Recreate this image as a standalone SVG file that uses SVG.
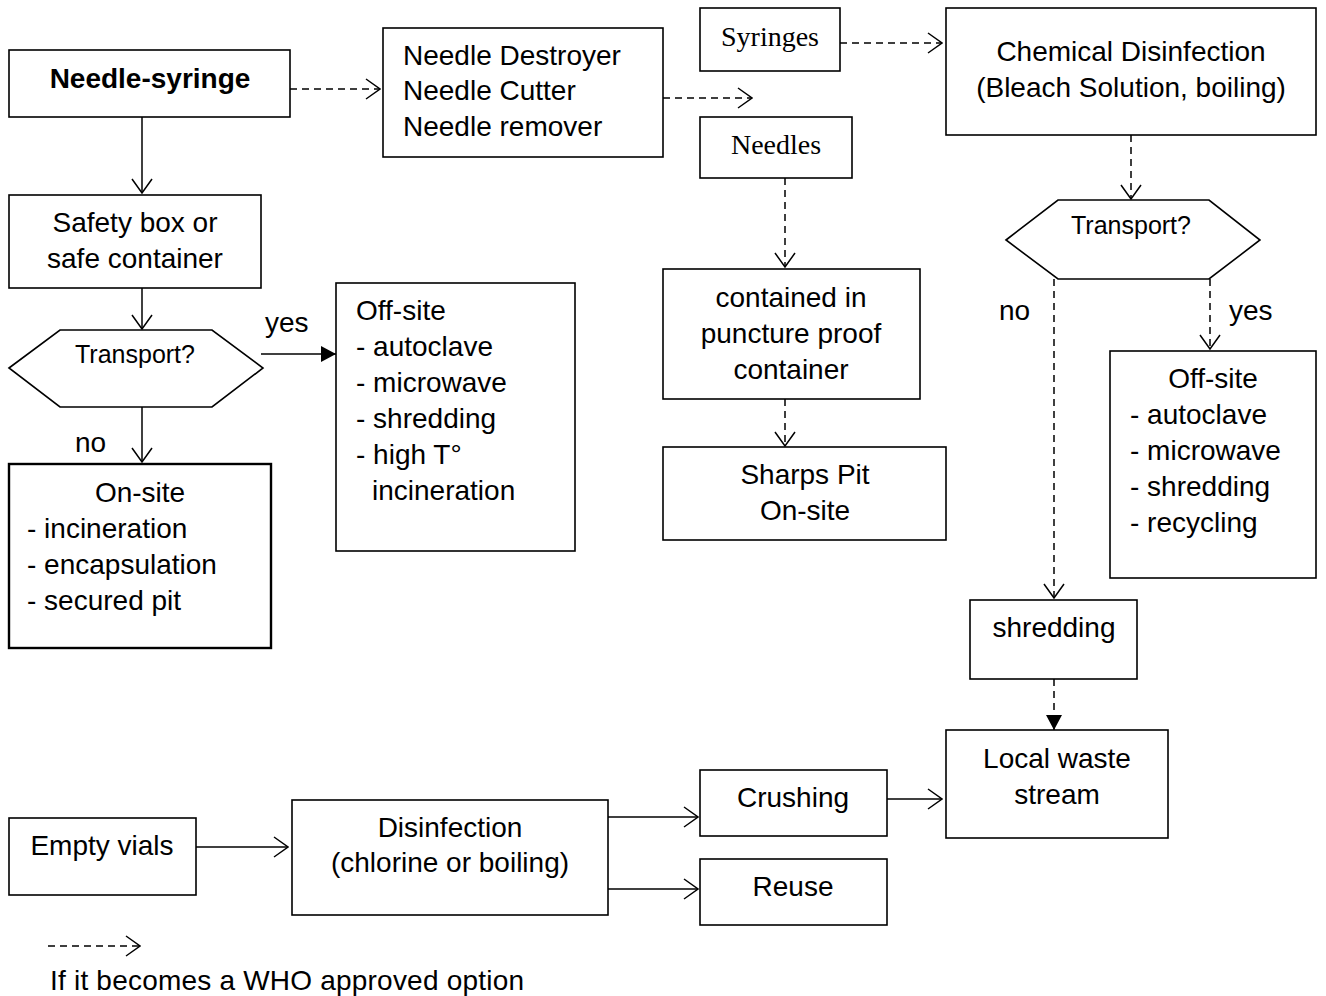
<svg xmlns="http://www.w3.org/2000/svg" width="1326" height="996" viewBox="0 0 1326 996">
<defs>
<marker id="open" viewBox="0 0 16 22" refX="15" refY="11" markerWidth="16" markerHeight="22" markerUnits="userSpaceOnUse" orient="auto">
<path d="M1,1 L15,11 L1,21" fill="none" stroke="#000" stroke-width="1.5"/>
</marker>
<marker id="filled" viewBox="0 0 15 16" refX="15" refY="8" markerWidth="15" markerHeight="16" markerUnits="userSpaceOnUse" orient="auto">
<path d="M0,0 L15,8 L0,16 Z" fill="#000"/>
</marker>
</defs>
<style>
.box{fill:#fff;stroke:#000;stroke-width:1.6}
.thick{stroke-width:2.4}
text{font-family:"Liberation Sans",Arial,sans-serif;font-size:28px;fill:#000}
.serif{font-family:"Liberation Serif","Times New Roman",serif}
.c{text-anchor:middle}
.small{font-size:25px}
.b{font-weight:bold}
.ln{fill:none;stroke:#000;stroke-width:1.5}
.d{stroke-dasharray:7,5}
.o{marker-end:url(#open)}
.f{marker-end:url(#filled)}
</style>
<rect width="1326" height="996" fill="#fff"/>

<g id="connectors">
<line class="ln d o" x1="290" y1="89" x2="380" y2="89"/>
<line class="ln d o" x1="663" y1="98" x2="752" y2="98"/>
<line class="ln d o" x1="840" y1="43" x2="942" y2="43"/>
<line class="ln d o" x1="785" y1="178" x2="785" y2="267"/>
<line class="ln d o" x1="785" y1="399" x2="785" y2="446"/>
<line class="ln o" x1="142" y1="117" x2="142" y2="193"/>
<line class="ln o" x1="142" y1="288" x2="142" y2="329"/>
<line class="ln f" x1="261" y1="354" x2="336" y2="354"/>
<line class="ln o" x1="142" y1="407" x2="142" y2="462"/>
<line class="ln d o" x1="1131" y1="135" x2="1131" y2="199"/>
<line class="ln d o" x1="1210" y1="279" x2="1210" y2="349"/>
<line class="ln d o" x1="1054" y1="279" x2="1054" y2="598"/>
<line class="ln d f" x1="1054" y1="679" x2="1054" y2="730"/>
<line class="ln o" x1="196" y1="847" x2="288" y2="847"/>
<line class="ln o" x1="608" y1="817" x2="698" y2="817"/>
<line class="ln o" x1="608" y1="889" x2="698" y2="889"/>
<line class="ln o" x1="887" y1="799" x2="942" y2="799"/>
<line class="ln d o" x1="48" y1="946" x2="140" y2="946"/>
</g>

<g id="needle-syringe">
<rect class="box" x="9" y="50" width="281" height="67"/>
<text class="c b" x="150" y="88">Needle-syringe</text>
</g>

<g id="needle-destroyer">
<rect class="box" x="383" y="28" width="280" height="129"/>
<text x="403" y="65">Needle Destroyer</text>
<text x="403" y="100">Needle Cutter</text>
<text x="403" y="136">Needle remover</text>
</g>

<g id="syringes">
<rect class="box" x="700" y="8" width="140" height="63"/>
<text class="c serif" x="770" y="46">Syringes</text>
</g>

<g id="needles">
<rect class="box" x="700" y="117" width="152" height="61"/>
<text class="c serif" x="776" y="154">Needles</text>
</g>

<g id="chemical-disinfection">
<rect class="box" x="946" y="8" width="370" height="127"/>
<text class="c" x="1131" y="61">Chemical Disinfection</text>
<text class="c" x="1131" y="97">(Bleach Solution, boiling)</text>
</g>

<g id="safety-box">
<rect class="box" x="9" y="195" width="252" height="93"/>
<text class="c" x="135" y="232">Safety box or</text>
<text class="c" x="135" y="268">safe container</text>
</g>

<g id="transport-left">
<polygon class="box" points="9,368 60,330 212,330 263,368 212,407 60,407"/>
<text class="c small" x="135" y="363">Transport?</text>
<text x="265" y="332">yes</text>
<text x="75" y="452">no</text>
</g>

<g id="on-site">
<rect class="box thick" x="9" y="464" width="262" height="184"/>
<text class="c" x="140" y="502">On-site</text>
<text x="27" y="538">- incineration</text>
<text x="27" y="574">- encapsulation</text>
<text x="27" y="610">- secured pit</text>
</g>

<g id="off-site-left">
<rect class="box" x="336" y="283" width="239" height="268"/>
<text x="356" y="320">Off-site</text>
<text x="356" y="356">- autoclave</text>
<text x="356" y="392">- microwave</text>
<text x="356" y="428">- shredding</text>
<text x="356" y="464">- high T°</text>
<text x="372" y="500">incineration</text>
</g>

<g id="puncture-proof">
<rect class="box" x="663" y="269" width="257" height="130"/>
<text class="c" x="791" y="307">contained in</text>
<text class="c" x="791" y="343">puncture proof</text>
<text class="c" x="791" y="379">container</text>
</g>

<g id="sharps-pit">
<rect class="box" x="663" y="447" width="283" height="93"/>
<text class="c" x="805" y="484">Sharps Pit</text>
<text class="c" x="805" y="520">On-site</text>
</g>

<g id="transport-right">
<polygon class="box" points="1006,240 1058,200 1209,200 1260,240 1209,279 1058,279"/>
<text class="c small" x="1131" y="234">Transport?</text>
<text x="999" y="320">no</text>
<text x="1229" y="320">yes</text>
</g>

<g id="off-site-right">
<rect class="box" x="1110" y="351" width="206" height="227"/>
<text class="c" x="1213" y="388">Off-site</text>
<text x="1130" y="424">- autoclave</text>
<text x="1130" y="460">- microwave</text>
<text x="1130" y="496">- shredding</text>
<text x="1130" y="532">- recycling</text>
</g>

<g id="shredding">
<rect class="box" x="970" y="600" width="167" height="79"/>
<text class="c" x="1054" y="637">shredding</text>
</g>

<g id="local-waste">
<rect class="box" x="946" y="730" width="222" height="108"/>
<text class="c" x="1057" y="768">Local waste</text>
<text class="c" x="1057" y="804">stream</text>
</g>

<g id="empty-vials">
<rect class="box" x="9" y="818" width="187" height="77"/>
<text class="c" x="102" y="855">Empty vials</text>
</g>

<g id="disinfection">
<rect class="box" x="292" y="800" width="316" height="115"/>
<text class="c" x="450" y="837">Disinfection</text>
<text class="c" x="450" y="872">(chlorine or boiling)</text>
</g>

<g id="crushing">
<rect class="box" x="700" y="770" width="187" height="66"/>
<text class="c" x="793" y="807">Crushing</text>
</g>

<g id="reuse">
<rect class="box" x="700" y="859" width="187" height="66"/>
<text class="c" x="793" y="896">Reuse</text>
</g>

<g id="legend">
<text x="50" y="990" textLength="474">If it becomes a WHO approved option</text>
</g>
</svg>
